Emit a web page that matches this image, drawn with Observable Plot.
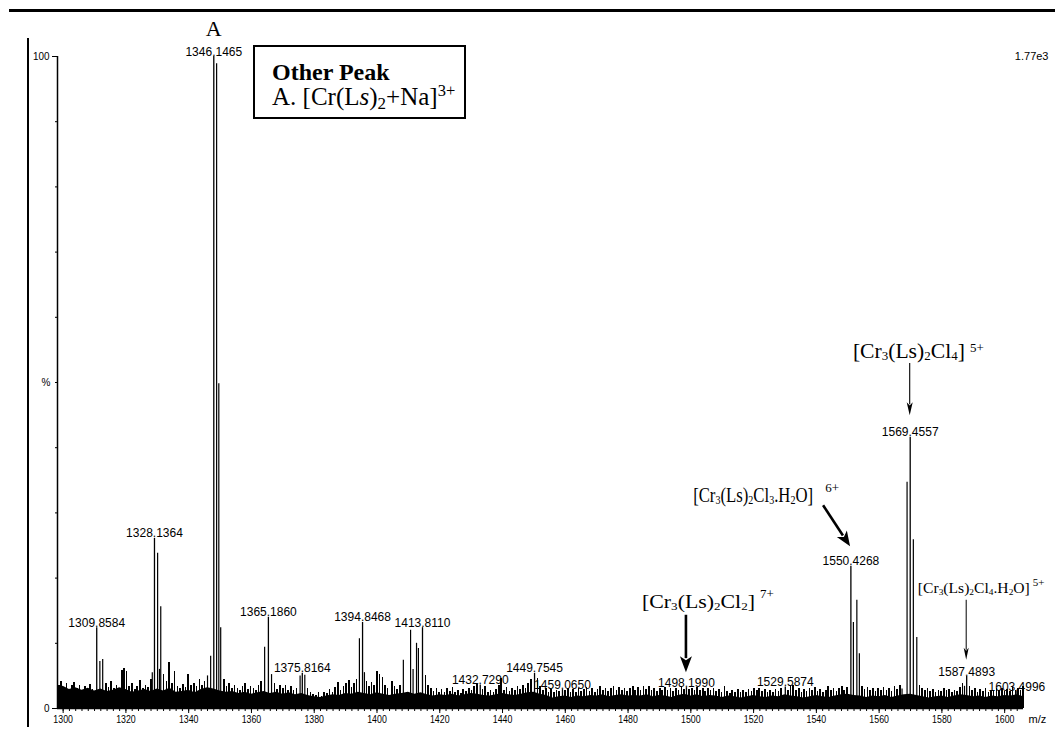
<!DOCTYPE html>
<html><head><meta charset="utf-8">
<script src="https://cdn.jsdelivr.net/npm/d3@7"></script>
<script src="https://cdn.jsdelivr.net/npm/@observablehq/plot@0.6"></script>
<style>
html,body{margin:0;padding:0;background:#fff;}
#wrap{position:relative;width:1055px;height:746px;overflow:hidden;background:#fff;}
#wrap svg{position:absolute;left:0;top:0;}
.topline{position:absolute;left:9px;top:9px;width:1046px;height:3px;background:#000;}
.leftline{position:absolute;left:27px;top:38px;width:2px;height:689px;background:#000;}
.box{position:absolute;left:253px;top:45px;width:209px;height:70px;border:2px solid #000;background:#fff;}
.box div{position:absolute;left:17px;white-space:nowrap;font-family:"Liberation Serif","Times New Roman",serif;color:#000;}
.l1{top:12px;font-size:24px;line-height:26px;font-weight:bold;}
.l2{top:36px;font-size:25px;line-height:27px;}
.sub{font-size:0.68em;position:relative;top:0.22em;}
.sup{font-size:0.66em;position:relative;top:-0.55em;}
</style>
</head><body>
<div id="wrap">
  <div class="topline"></div>
  <div class="leftline"></div>
</div>
<script>
// ---------- data ----------
const xTickLabels = [1300,1320,1340,1360,1380,1400,1420,1440,1460,1480,1500,1520,1540,1560,1580,1600];
const yTickLabels = [0,100];
const yMinorTicks = [10,20,30,40,50,60,70,80,90];

// labelled peaks: m/z position, relative intensity (%), printed label
const peakMz    = [1310.7, 1329.1, 1348.0, 1365.4, 1376.2, 1395.4, 1414.5, 1432.9, 1450.2, 1459.1, 1498.6, 1530.1, 1551.0, 1569.9, 1587.9, 1603.9];
const peakPct   = [12.4,   26.1,   100,    14.0,   5.4,    13.2,   12.4,   3.6,    5.4,    2.9,    3.2,    3.3,    21.8,   41.6,   4.9,    2.6];
const peakLabel = ["1309.8584","1328.1364","1346.1465","1365.1860","1375.8164","1394.8468","1413.8110","1432.7290","1449.7545","1459.0650","1498.1990","1529.5874","1550.4268","1569.4557","1587.4893","1603.4996"];

// isotope / satellite lines: [m/z, %]
const satellitePeaks = [
  [1311.7,7.2],[1312.6,7.5],
  [1328.4,5.5],[1330.1,23.8],[1330.7,6.0],[1331.1,15.6],
  [1346.0,5.0],[1347.0,8.0],[1348.9,98.9],[1349.6,49.8],[1350.2,12.4],
  [1364.2,9.4],[1366.4,5.2],
  [1375.5,5.0],[1377.0,5.1],
  [1394.4,10.7],[1396.0,5.5],
  [1408.4,7.4],[1410.7,12.0],[1411.5,6.0],[1412.6,10.0],[1413.2,9.2],
  [1551.8,13.2],[1552.9,16.6],[1553.7,8.4],
  [1567.3,3.0],[1568.9,34.7],[1570.9,25.9],[1572.0,10.9],
  [1587.2,3.4]
];

// baseline noise band: [m/z, %]
const noiseFloor = [
  [1298.2,3.0],[1300,3.4],[1302,2.9],[1304,3.2],[1306,2.8],[1308,3.1],[1310,2.7],[1312,3.0],[1314,2.6],[1316,2.8],
  [1318,3.2],[1320,2.9],[1322,2.5],[1324,2.7],[1326,2.9],[1328,2.6],[1330,3.0],[1332,2.7],[1334,3.1],[1336,2.5],
  [1338,2.6],[1340,2.8],[1342,2.4],[1344,2.9],[1346,3.2],[1348,3.0],[1350,2.7],[1352,2.5],[1354,2.6],[1356,2.3],
  [1358,2.5],[1360,2.2],[1362,2.4],[1364,2.6],[1366,2.3],[1368,2.5],[1370,2.2],[1372,2.4],[1374,2.1],[1376,2.3],
  [1378,2.0],[1380,1.8],[1382,1.7],[1384,1.9],[1386,2.1],[1388,2.0],[1390,2.3],[1392,2.2],[1394,2.5],[1396,2.3],
  [1398,2.1],[1400,2.4],[1402,2.2],[1404,2.0],[1406,2.2],[1408,2.3],[1410,2.5],[1412,2.2],[1414,2.4],[1416,2.1],
  [1418,1.9],[1420,2.1],[1422,2.0],[1424,2.2],[1426,1.9],[1428,2.1],[1430,2.3],[1432,2.2],[1434,2.0],[1436,1.9],
  [1438,2.1],[1440,2.3],[1442,2.1],[1444,2.0],[1446,2.2],[1448,2.4],[1450,2.5],[1452,2.2],[1454,2.0],[1456,1.6],
  [1458,1.8],[1460,1.9],[1462,1.7],[1464,1.9],[1466,1.8],[1468,2.0],[1470,1.9],[1472,2.1],[1474,1.8],[1476,2.0],
  [1478,2.1],[1480,1.9],[1482,2.0],[1484,1.9],[1486,2.1],[1488,1.8],[1490,2.0],[1492,1.9],[1494,1.7],[1496,2.0],
  [1498,2.2],[1500,1.9],[1502,2.1],[1504,1.8],[1506,2.0],[1508,1.9],[1510,1.7],[1512,1.9],[1514,1.8],[1516,1.6],
  [1518,1.8],[1520,2.0],[1522,1.8],[1524,1.7],[1526,1.9],[1528,1.8],[1530,2.1],[1532,1.9],[1534,1.8],[1536,1.6],
  [1538,1.8],[1540,2.0],[1542,1.8],[1544,1.7],[1546,1.9],[1548,2.1],[1550,2.2],[1552,2.0],[1554,1.9],[1556,1.7],
  [1558,1.9],[1560,1.8],[1562,2.0],[1564,1.7],[1566,1.9],[1568,2.1],[1570,2.2],[1572,2.0],[1574,1.8],[1576,1.6],
  [1578,1.8],[1580,1.9],[1582,1.7],[1584,1.9],[1586,2.1],[1588,2.0],[1590,1.8],[1592,1.9],[1594,1.7],[1596,1.9],
  [1598,1.8],[1600,2.0],[1602,1.9],[1604,2.1],[1606,1.8]
];

// noise spikes above the band: [m/z, %]
const noiseSpikes = [
  [1298.6,3.6],[1299.4,4.1],[1300.3,3.2],[1301.1,3.8],[1301.9,2.9],[1302.8,3.5],[1303.5,4.0],[1304.4,3.1],[1305.2,3.6],[1306.1,2.8],
  [1306.9,3.4],[1307.8,3.0],[1308.6,3.7],[1309.3,2.9],[1313.6,3.8],[1314.4,3.2],[1315.3,4.2],[1316.2,3.0],[1317.0,3.5],[1318.7,5.8],
  [1319.4,6.1],[1320.2,5.6],[1321.0,3.3],[1321.9,3.8],[1322.8,2.9],[1323.6,3.4],[1324.5,4.3],[1325.4,3.1],[1326.3,3.6],[1327.1,3.2],
  [1328.0,4.5],[1332.0,5.2],[1332.9,4.1],[1333.8,7.0],[1334.6,3.9],[1335.5,5.6],[1336.4,3.4],[1337.3,3.0],[1338.1,3.7],[1339.0,3.2],
  [1339.8,5.2],[1340.7,3.5],[1341.6,3.9],[1342.5,3.3],[1343.4,4.4],[1344.2,3.6],[1345.0,4.1],[1351.2,4.5],[1352.0,3.4],[1352.9,3.9],
  [1353.8,3.0],[1354.6,3.6],[1355.5,3.1],[1356.3,2.8],[1357.2,3.3],[1358.0,3.8],[1358.9,2.9],[1359.7,3.4],[1360.6,3.1],[1361.5,2.7],
  [1362.3,3.5],[1363.1,4.2],[1367.4,3.8],[1368.2,2.9],[1369.1,3.5],[1370.0,3.0],[1370.8,3.6],[1371.7,2.8],[1372.6,3.3],[1373.4,2.7],
  [1374.3,3.1],[1377.9,3.0],[1378.8,2.5],[1379.6,2.2],[1380.5,2.0],[1381.4,2.4],[1382.3,1.9],[1383.1,2.5],[1384.0,2.3],[1384.9,2.9],
  [1385.8,2.4],[1386.7,3.2],[1387.5,4.0],[1388.4,2.7],[1389.3,3.3],[1390.1,3.9],[1391.0,4.3],[1391.9,3.2],[1392.7,3.8],[1393.5,4.5],
  [1396.6,4.2],[1397.5,3.3],[1398.3,4.0],[1399.1,3.5],[1400.0,5.6],[1400.8,5.2],[1401.7,4.8],[1402.5,3.6],[1403.4,3.1],[1404.7,4.1],
  [1405.6,3.3],[1406.4,2.9],[1407.3,3.6],[1415.5,5.0],[1416.3,3.6],[1417.2,3.0],[1418.0,2.6],[1418.9,3.1],[1419.7,2.5],[1420.6,2.9],
  [1421.5,2.4],[1422.3,3.0],[1423.2,2.6],[1424.1,3.2],[1424.9,2.5],[1425.8,2.8],[1426.7,2.3],[1427.5,2.9],[1428.4,2.6],[1429.3,3.1],
  [1430.1,2.8],[1431.0,3.4],[1431.8,3.7],[1433.6,2.9],[1434.5,3.3],[1435.3,2.5],[1436.2,2.8],[1437.1,2.4],[1437.9,2.9],[1438.8,3.5],
  [1439.6,4.6],[1440.5,2.8],[1441.3,3.2],[1442.2,2.6],[1443.0,3.0],[1443.9,2.7],[1444.8,3.4],[1445.6,2.9],[1446.5,3.6],[1447.3,3.0],
  [1448.2,3.8],[1449.1,4.4],[1451.2,4.6],[1452.0,3.4],[1452.9,2.8],[1453.8,3.1],[1454.6,2.5],[1455.5,2.9],[1456.4,2.4],[1457.2,2.8],
  [1458.0,2.6],[1459.9,2.7],[1460.8,3.0],[1461.6,2.5],[1462.5,2.9],[1463.4,2.4],[1464.2,3.1],[1465.1,2.6],[1465.9,2.9],[1466.8,3.2],
  [1467.7,2.6],[1468.5,3.0],[1469.4,2.5],[1470.3,2.9],[1471.1,3.3],[1472.0,2.7],[1472.8,3.1],[1473.7,2.6],[1474.6,3.0],[1475.4,3.4],
  [1476.3,2.8],[1477.1,3.2],[1478.0,2.7],[1478.9,3.1],[1479.7,2.6],[1480.6,3.0],[1481.5,3.3],[1482.3,2.8],[1483.2,3.2],[1484.0,2.7],
  [1484.9,3.4],[1485.8,2.9],[1486.6,3.3],[1487.5,2.8],[1488.3,3.1],[1489.2,2.6],[1490.1,3.0],[1490.9,2.7],[1491.8,3.2],[1492.6,2.8],
  [1493.5,3.0],[1494.4,2.6],[1495.2,3.1],[1496.1,2.8],[1497.0,3.3],[1497.8,2.9],[1499.5,2.9],[1500.3,3.1],[1501.2,2.7],[1502.0,3.2],
  [1502.9,2.8],[1503.8,3.0],[1504.6,2.6],[1505.5,3.1],[1506.3,2.7],[1507.2,3.0],[1508.1,2.6],[1508.9,2.9],[1509.8,2.4],[1510.7,3.4],
  [1511.5,2.6],[1512.4,2.3],[1513.2,2.8],[1514.1,2.5],[1515.0,2.9],[1515.8,2.4],[1516.7,2.7],[1517.5,2.5],[1518.4,2.9],[1519.3,2.6],
  [1520.1,3.0],[1521.0,2.7],[1521.8,3.1],[1522.7,2.6],[1523.6,2.9],[1524.4,2.5],[1525.3,2.8],[1526.1,2.4],[1527.0,2.9],[1527.9,2.6],
  [1528.7,3.0],[1531.0,2.8],[1531.8,3.3],[1532.6,3.6],[1533.5,2.8],[1534.4,3.1],[1535.2,2.5],[1536.1,2.9],[1536.9,2.6],[1537.8,3.0],
  [1538.7,2.7],[1539.5,3.2],[1540.4,2.6],[1541.2,2.9],[1542.1,2.5],[1543.0,2.8],[1543.8,3.4],[1544.7,2.7],[1545.5,3.0],[1546.4,2.6],
  [1547.3,3.1],[1548.1,3.4],[1548.9,2.8],[1549.8,3.2],[1554.6,3.4],[1555.4,2.9],[1556.3,3.2],[1557.1,2.7],[1558.0,3.0],[1558.9,2.6],
  [1559.7,3.1],[1560.6,2.8],[1561.4,3.2],[1562.3,2.7],[1563.2,3.0],[1564.0,2.6],[1564.9,3.3],[1565.7,2.9],[1566.6,3.6],[1572.9,3.5],
  [1573.7,3.0],[1574.6,2.7],[1575.4,3.1],[1576.3,2.6],[1577.2,2.9],[1578.0,2.5],[1578.9,2.8],[1579.7,2.6],[1580.6,3.0],[1581.5,2.7],
  [1582.3,2.9],[1583.2,2.5],[1584.0,2.8],[1584.9,2.6],[1585.8,3.2],[1586.6,3.8],[1588.8,3.3],[1589.6,2.7],[1590.5,3.0],[1591.4,2.5],
  [1592.2,2.9],[1593.1,2.6],[1593.9,3.0],[1594.8,2.5],[1595.7,2.8],[1596.5,2.6],[1597.4,3.0],[1598.2,2.7],[1599.1,3.1],[1600.0,2.6],
  [1600.8,2.9],[1601.7,2.6],[1602.5,3.2],[1603.4,2.8],[1604.3,3.0],[1605.1,2.7],[1605.9,3.3]
];

// assignment formulas: [text, kind]
const formulaCl4   = [["[Cr",""],["3","sub"],["(Ls)",""],["2","sub"],["Cl",""],["4","sub"],["]",""]];
const formulaCl3W  = [["[Cr",""],["3","sub"],["(Ls)",""],["2","sub"],["Cl",""],["3","sub"],[".H",""],["2","sub"],["O]",""]];
const formulaCl2   = [["[Cr",""],["3","sub"],["(Ls)",""],["2","sub"],["Cl",""],["2","sub"],["]",""]];
const formulaCl4W  = [["[Cr",""],["3","sub"],["(Ls)",""],["2","sub"],["Cl",""],["4","sub"],[".H",""],["2","sub"],["O]",""]];
const charges = ["5+","6+","7+","5+"];

// ---------- chart ----------
const peaks = peakMz.map((mz,i)=>({mz, pct:peakPct[i], label:peakLabel[i]}));
const sans = "'Liberation Sans',Arial,sans-serif";
const serif = "'Liberation Serif','Times New Roman',serif";
const xDomain = [1298.2, 1606];

const chart = Plot.plot({
  width:1055, height:746,
  marginLeft:57, marginRight:32, marginTop:56, marginBottom:38,
  x:{domain:xDomain, axis:null},
  y:{domain:[0,100], axis:null},
  style:{background:"white", color:"black", fontFamily:sans, fontSize:"11px", overflow:"visible"},
  marks:[
    Plot.areaY(noiseFloor, {x:d=>d[0], y:d=>d[1], fill:"black"}),
    Plot.ruleX(noiseSpikes, {x:d=>d[0], y1:0, y2:d=>d[1], stroke:"black", strokeWidth:1.6, shapeRendering:"crispEdges"}),
    Plot.ruleX(satellitePeaks, {x:d=>d[0], y1:0, y2:d=>d[1], stroke:"black", strokeWidth:1.2}),
    Plot.ruleX(peaks, {x:"mz", y1:0, y2:"pct", stroke:"black", strokeWidth:1.3}),
    Plot.text(peaks, {x:"mz", y:"pct", text:"label", lineAnchor:"bottom", dy:-1, fontSize:12, fontFamily:sans, fill:"black", ariaLabel:"peak label"}),
    Plot.ruleY([0], {stroke:"black", strokeWidth:1.5}),
    Plot.ruleX([xDomain[0]], {y1:0, y2:100, stroke:"black", strokeWidth:1.5}),
    Plot.axisX({ticks:xTickLabels, tickSize:5, tickPadding:2, label:null, tickFormat:d=>String(d)}),
    Plot.axisX({ticks:d3.range(1300,1606,2), tickSize:3, tickFormat:()=>"", label:null}),
    Plot.axisY({ticks:yTickLabels, tickSize:5, tickPadding:3, label:null, tickFormat:d=>String(d)}),
    Plot.axisY({ticks:yMinorTicks, tickSize:2, tickFormat:()=>"", label:null}),
    Plot.text(["%"], {frameAnchor:"left", dx:-16, fontSize:10, fill:"black"}),
    Plot.text(["1.77e3"], {frameAnchor:"top-right", dx:25, textAnchor:"end", lineAnchor:"middle", fontSize:11, fill:"black"}),
    Plot.text(["m/z"], {frameAnchor:"bottom-right", dx:5, dy:14, textAnchor:"start", fontSize:11, fill:"black"}),
    Plot.text(peaks.filter(d=>d.pct===100), {x:"mz", y:"pct", text:()=>"A", lineAnchor:"bottom", dy:-21, fontFamily:serif, fontSize:22, fill:"black"})
  ]
});
const wrap = document.getElementById("wrap");
wrap.insertBefore(chart, wrap.firstChild);

// condense the instrument's narrow sans-serif labels
function condense(selector, k){
  chart.querySelectorAll(selector).forEach(node=>{
    const w = node.getComputedTextLength();
    if (w > 0){ node.setAttribute("textLength", (w*k).toFixed(2)); node.setAttribute("lengthAdjust","spacingAndGlyphs"); }
  });
}
condense('g[aria-label="peak label"] text', 0.85);
condense('g[aria-label="x-axis tick label"] text', 0.8);
condense('g[aria-label="y-axis tick label"] text', 0.9);

// ---------- annotations (placed through the plot's scales) ----------
const sx = chart.scale("x"), sy = chart.scale("y");
const X = v => sx.apply(v), Y = v => sy.apply(v);
const svg = d3.select(chart);

const notes = [
  {parts:formulaCl4,  charge:charges[0], mz:1551.8, pct:53.7, size:22, width:112, supGap:5,  supSize:13, supRise:6},
  {parts:formulaCl3W, charge:charges[1], mz:1500.9, pct:31.6, size:21, width:120, supGap:12, supSize:13, supRise:10},
  {parts:formulaCl2,  charge:charges[2], mz:1484.6, pct:15.3, size:19, width:113, supGap:5,  supSize:13, supRise:10},
  {parts:formulaCl4W, charge:charges[3], mz:1572.5, pct:17.6, size:15, width:112, supGap:3,  supSize:11, supRise:7}
];
for (const n of notes){
  const g = svg.append("g").attr("transform",`translate(${X(n.mz)},${Y(n.pct)})`).attr("text-anchor","start");
  const t = g.append("text").attr("text-anchor","start").attr("font-family",serif).attr("font-size",n.size).attr("fill","black");
  let cur = 0;
  for (const [s,k] of n.parts){
    const target = k==="sub" ? n.size*0.1 : 0;
    const ts = t.append("tspan").text(s).attr("dy", target-cur);
    cur = target;
    if (k==="sub") ts.attr("font-size", n.size*0.6);
  }
  const natural = t.node().getComputedTextLength();
  t.attr("transform",`scale(${n.width/natural},1)`);
  g.append("text").attr("text-anchor","start").attr("x", n.width + n.supGap).attr("y", -n.supRise)
    .attr("font-family",serif).attr("font-size",n.supSize).attr("fill","black").text(n.charge);
}

const arrows = [
  {x1:1569.9, y1:52.9, x2:1569.9, y2:44.9, w:1.1, hl:13, hw:6},
  {x1:1542.3, y1:31.1, x2:1550.9, y2:24.8, w:2.6, hl:15, hw:12},
  {x1:1498.6, y1:14.3, x2:1498.6, y2:5.5,  w:2.6, hl:16, hw:12},
  {x1:1587.9, y1:16.6, x2:1587.9, y2:7.4,  w:1.0, hl:12, hw:5}
];
for (const a of arrows){
  const ax1 = X(a.x1), ay1 = Y(a.y1), ax2 = X(a.x2), ay2 = Y(a.y2);
  const dx = ax2-ax1, dy = ay2-ay1, L = Math.hypot(dx,dy), ux = dx/L, uy = dy/L;
  const bx = ax2 - ux*a.hl, by = ay2 - uy*a.hl;
  svg.append("line").attr("x1",ax1).attr("y1",ay1).attr("x2",bx+ux*2).attr("y2",by+uy*2)
    .attr("stroke","black").attr("stroke-width",a.w);
  const px = -uy*a.hw/2, py = ux*a.hw/2;
  svg.append("path").attr("d",`M${ax2},${ay2}L${bx+px},${by+py}L${bx+ux*a.hl*0.25},${by+uy*a.hl*0.25}L${bx-px},${by-py}Z`)
    .attr("fill","black");
}

// legend box (HTML overlay)
const box = document.createElement("div");
box.className = "box";
box.innerHTML = '<div class="l1">Other Peak</div><div class="l2">A. [Cr(L<i>s</i>)<span class="sub">2</span>+Na]<span class="sup">3+</span></div>';
wrap.appendChild(box);
</script>
</body></html>
